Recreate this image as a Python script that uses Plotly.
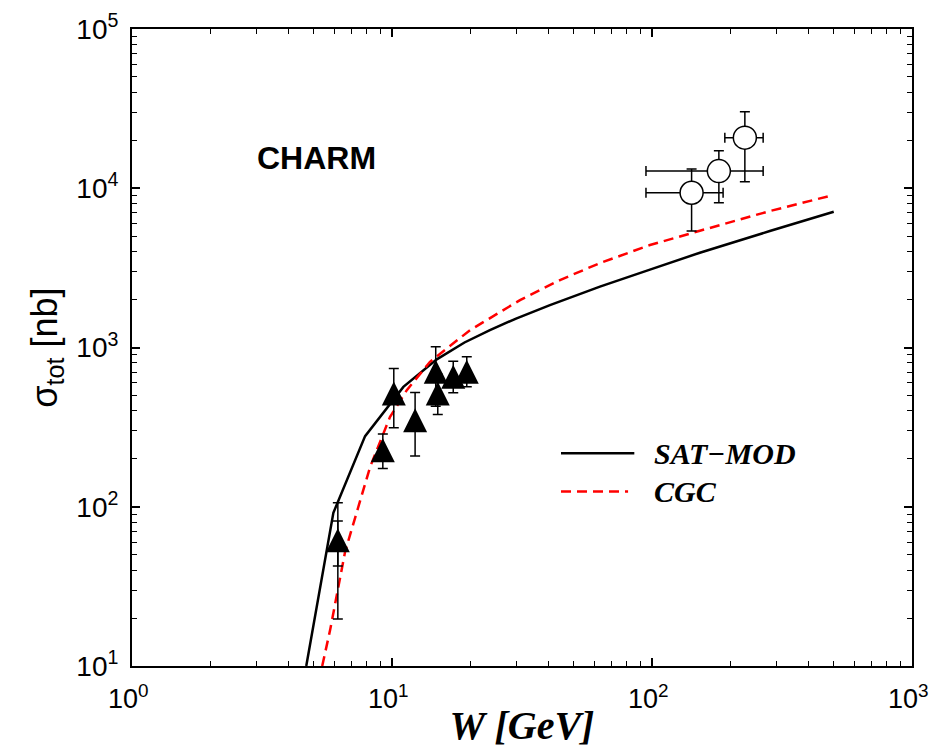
import plotly.graph_objects as go

# ---- data ----
sat_w = [4.68, 5.95, 7.88, 11.06, 14.87, 19.0, 23.8, 30.0, 40.5, 63.06, 98.2, 152.8, 283.9, 500.0]
sat_s = [10.0, 91.6, 277.7, 566.0, 842.0, 1075.0, 1286.0, 1520.0, 1846.0, 2413.0, 3086.0, 3936.0, 5385.0, 7115.0]

cgc_w = [5.39, 5.78, 6.60, 8.24, 9.83, 11.4, 14.0, 19.96, 31.07, 44.26, 63.06, 98.2, 152.8, 283.9, 497.0]
cgc_s = [10.0, 16.8, 52.1, 178.0, 367.0, 540.0, 813.0, 1286.0, 1985.0, 2651.0, 3390.0, 4398.0, 5408.0, 7192.0, 9060.0]

tri_w = [6.19, 9.22, 10.16, 12.27, 14.73, 15.0, 17.2, 19.39]
tri_s = [61.7, 226.7, 514.9, 349.9, 703.8, 514.9, 654.6, 703.8]
tri_hi = [105.8, 285.8, 739.0, 522.0, 1010.0, 680.0, 821.0, 874.0]
tri_lo = [19.7, 174.0, 313.0, 208.0, 428.0, 380.0, 520.0, 566.0]

# inner (statistical) error bar on first point
tri_in_w = [6.19]
tri_in_s = [61.7]
tri_in_hi = [81.5]
tri_in_lo = [42.5]

circ_w = [142.0, 180.8, 227.6]
circ_s = [9370.0, 12823.0, 20765.0]
circ_wlo = [94.8, 94.8, 190.6]
circ_whi = [187.7, 267.6, 267.6]
circ_hi = [13200.0, 17200.0, 30230.0]
circ_lo = [5385.0, 8110.0, 10985.0]

x_tickvals = [1, 10, 100, 1000]
x_ticktext = ["10<sup>0</sup>\u00a0", "10<sup>1</sup>\u00a0", "10<sup>2</sup>\u00a0", "10<sup>3</sup>\u00a0"]
y_tickvals = [10, 100, 1000, 10000, 100000]
y_ticktext = ["10<sup>1</sup>", "10<sup>2</sup>", "10<sup>3</sup>", "10<sup>4</sup>", "10<sup>5</sup>"]

fig = go.Figure()

fig.add_trace(go.Scatter(x=sat_w, y=sat_s, mode="lines", name="SAT−MOD",
                         line=dict(color="black", width=2.5), showlegend=False))
fig.add_trace(go.Scatter(x=cgc_w, y=cgc_s, mode="lines", name="CGC",
                         line=dict(color="red", width=2.5, dash="10px,6px"), showlegend=False))

fig.add_trace(go.Scatter(
    x=tri_in_w, y=tri_in_s, mode="markers", showlegend=False,
    marker=dict(size=1, color="rgba(0,0,0,0)"),
    error_y=dict(type="data", symmetric=False,
                 array=[h - s for h, s in zip(tri_in_hi, tri_in_s)],
                 arrayminus=[s - l for s, l in zip(tri_in_s, tri_in_lo)],
                 color="black", thickness=1.5, width=5)))

fig.add_trace(go.Scatter(
    x=tri_w, y=tri_s, mode="markers", showlegend=False,
    marker=dict(symbol="arrow-down", angle=180, size=24, color="black", standoff=12,
                line=dict(width=0)),
    error_y=dict(type="data", symmetric=False,
                 array=[h - s for h, s in zip(tri_hi, tri_s)],
                 arrayminus=[s - l for s, l in zip(tri_s, tri_lo)],
                 color="black", thickness=1.5, width=5)))

fig.add_trace(go.Scatter(
    x=circ_w, y=circ_s, mode="markers", showlegend=False,
    marker=dict(symbol="circle", size=23, color="white",
                line=dict(color="black", width=1.5)),
    error_y=dict(type="data", symmetric=False,
                 array=[h - s for h, s in zip(circ_hi, circ_s)],
                 arrayminus=[s - l for s, l in zip(circ_s, circ_lo)],
                 color="black", thickness=1.5, width=5),
    error_x=dict(type="data", symmetric=False,
                 array=[h - s for h, s in zip(circ_whi, circ_w)],
                 arrayminus=[s - l for s, l in zip(circ_w, circ_wlo)],
                 color="black", thickness=1.5, width=5)))

axis_common = dict(
    type="log", showgrid=False, zeroline=False,
    showline=True, linecolor="black", linewidth=2, mirror="allticks",
    ticks="inside", ticklen=8, tickwidth=1.5, tickcolor="black",
    minor=dict(ticks="inside", ticklen=5, tickwidth=1.2, tickcolor="black",
               dtick="D1", showgrid=False),
    ticklabeloverflow="allow", automargin=False,
)

fig.update_xaxes(**axis_common, range=[0, 3],
                 tickmode="array", tickvals=x_tickvals, ticktext=x_ticktext,
                 tickfont=dict(family="Liberation Sans, Arial", size=27, color="black"),
                 ticklabelstandoff=8,
                 title=dict(text="<b><i>W [GeV]</i></b>",
                            font=dict(family="Liberation Serif, Times New Roman", size=40, color="black"),
                            standoff=2))
fig.update_yaxes(**axis_common, range=[1, 5],
                 tickmode="array", tickvals=y_tickvals, ticktext=y_ticktext,
                 tickfont=dict(family="Liberation Sans, Arial", size=28, color="black"),
                 ticklabelstandoff=6,
                 title=dict(text="σ<sub>tot</sub> [nb]",
                            font=dict(family="Liberation Sans, Arial", size=36, color="black"),
                            standoff=8))

# legend key (drawn in paper coords)
fig.add_shape(type="line", xref="paper", yref="paper", x0=0.550, x1=0.644, y0=0.334, y1=0.334,
              line=dict(color="black", width=2.5))
fig.add_shape(type="line", xref="paper", yref="paper", x0=0.550, x1=0.636, y0=0.274, y1=0.274,
              line=dict(color="red", width=2.5, dash="10px,6px"))
fig.add_annotation(xref="paper", yref="paper", x=0.667, y=0.334, xanchor="left", yanchor="middle",
                   text="<b><i>SAT−MOD</i></b>", showarrow=False,
                   font=dict(family="Liberation Serif, Times New Roman", size=30, color="black"))
fig.add_annotation(xref="paper", yref="paper", x=0.667, y=0.274, xanchor="left", yanchor="middle",
                   text="<b><i>CGC</i></b>", showarrow=False,
                   font=dict(family="Liberation Serif, Times New Roman", size=30, color="black"))
fig.add_annotation(xref="paper", yref="paper", x=0.236, y=0.797, xanchor="center", yanchor="middle",
                   text="<b>CHARM</b>", showarrow=False,
                   font=dict(family="Liberation Sans, Arial", size=32, color="black"))

fig.update_layout(
    width=930, height=748,
    margin=dict(l=131.7, r=17.7, t=29, b=82.3, autoexpand=False),
    paper_bgcolor="white", plot_bgcolor="white",
    showlegend=False,
)

fig.write_html("out.html")
